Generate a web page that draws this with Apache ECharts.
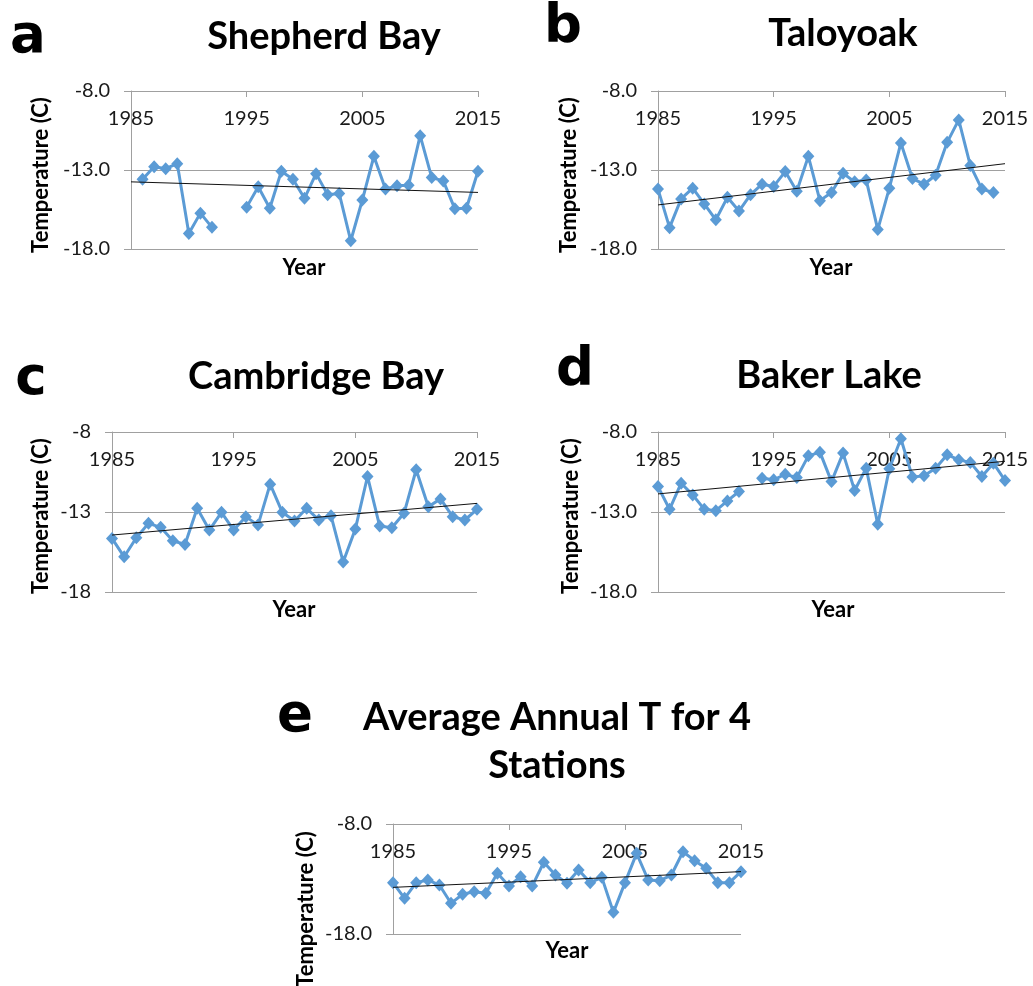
<!DOCTYPE html>
<html>
<head>
<meta charset="utf-8">
<script src="https://cdn.jsdelivr.net/npm/echarts@6/dist/echarts.min.js"></script>
<style>
  html, body { margin: 0; padding: 0; background: #fff; }
  #chart { width: 1033px; height: 986px; }
</style>
</head>
<body>
<div id="chart"></div>
<script>
// years on the x axis
const years = [1985, 1986, 1987, 1988, 1989, 1990, 1991, 1992, 1993, 1994,
  1995, 1996, 1997, 1998, 1999, 2000, 2001, 2002, 2003, 2004,
  2005, 2006, 2007, 2008, 2009, 2010, 2011, 2012, 2013, 2014, 2015]
const xTicks = [1985, 1995, 2005, 2015]

// annual mean temperature (C), null = no data
const shepherdBay = [null, -13.58, -12.79, -12.92, -12.6, -17.02, -15.73, -16.63, null, null,
  -15.35, -14.06, -15.42, -13.08, -13.58, -14.79, -13.23, -14.56, -14.48, -17.48,
  -14.9, -12.13, -14.21, -14.0, -13.96, -10.83, -13.48, -13.69, -15.46, -15.42, -13.08]
const taloyoak = [-14.21, -16.65, -14.83, -14.15, -15.15, -16.15, -14.73, -15.6, -14.56, -13.9,
  -14.04, -13.1, -14.35, -12.13, -14.94, -14.42, -13.21, -13.75, -13.63, -16.77,
  -14.15, -11.29, -13.54, -13.9, -13.33, -11.25, -9.83, -12.71, -14.21, -14.42, null]
const cambridgeBay = [-14.65, -15.8, -14.61, -13.71, -13.96, -14.8, -15.03, -12.77, -14.13, -13.02,
  -14.13, -13.29, -13.82, -11.26, -13.02, -13.56, -12.77, -13.5, -13.23, -16.12,
  -14.07, -10.78, -13.88, -13.98, -13.08, -10.36, -12.67, -12.18, -13.29, -13.5, -12.83]
const bakerLake = [-11.41, -12.83, -11.2, -11.93, -12.83, -12.92, -12.31, -11.72, null, -10.89,
  -10.99, -10.64, -10.85, -9.49, -9.26, -11.1, -9.32, -11.66, -10.26, -13.77,
  -10.3, -8.42, -10.82, -10.74, -10.26, -9.42, -9.74, -9.9, -10.78, -9.95, -11.03]
const average4 = [-13.33, -14.76, -13.33, -13.09, -13.55, -15.21, -14.39, -14.15, -14.3, -12.48,
  -13.64, -12.79, -13.64, -11.48, -12.64, -13.39, -12.18, -13.33, -12.85, -16.03,
  -13.33, -10.67, -13.09, -13.15, -12.64, -10.52, -11.33, -12.03, -13.33, -13.33, -12.33]

// linear trend lines, end points
const trendYears = [1985, 2015]
const shepherdTrend = [-13.75, -14.42]
const taloyoakTrend = [-15.21, -12.6]
const cambridgeTrend = [-14.44, -12.46]
const bakerTrend = [-11.87, -9.83]
const averageTrend = [-13.76, -12.33]

// y axis ticks
const yTicks = [-18, -13, -8]
const yTicksAvg = [-18, -8]

const BLUE = '#5B9BD5'
const GRID = '#a0a0a0'
const TXT = '#1a1a1a'

const panels = [
  { values: shepherdBay, trend: shepherdTrend, ticks: yTicks, dec: 1,
    grid: { left: 131, top: 91, width: 347, height: 158 } },
  { values: taloyoak, trend: taloyoakTrend, ticks: yTicks, dec: 1,
    grid: { left: 658, top: 91, width: 347, height: 158 } },
  { values: cambridgeBay, trend: cambridgeTrend, ticks: yTicks, dec: 0,
    grid: { left: 112, top: 432, width: 365, height: 160 } },
  { values: bakerLake, trend: bakerTrend, ticks: yTicks, dec: 1,
    grid: { left: 658, top: 432, width: 347, height: 160 } },
  { values: average4, trend: averageTrend, ticks: yTicksAvg, dec: 1,
    grid: { left: 393, top: 824, width: 348, height: 110 } }
]

const grids = []
const xAxes = []
const yAxes = []
const series = []

panels.forEach((p, i) => {
  grids.push(p.grid)
  xAxes.push({
    type: 'value',
    gridIndex: i,
    position: 'top',
    min: xTicks[0],
    max: xTicks[xTicks.length - 1],
    interval: xTicks[1] - xTicks[0],
    axisLine: { show: true, lineStyle: { color: GRID, width: 1 } },
    axisTick: { show: true, inside: true, length: 6, lineStyle: { color: GRID } },
    axisLabel: {
      inside: true, margin: 18, fontSize: 20, fontFamily: 'Lato', color: TXT,
      formatter: v => String(v)
    },
    splitLine: { show: false }
  })
  yAxes.push({
    type: 'value',
    gridIndex: i,
    min: p.ticks[0],
    max: p.ticks[p.ticks.length - 1],
    interval: p.ticks[1] - p.ticks[0],
    axisLine: { show: true, lineStyle: { color: GRID, width: 1 } },
    axisTick: { show: true, length: 7, lineStyle: { color: GRID } },
    axisLabel: {
      margin: 21, fontSize: 20, fontFamily: 'Lato', color: TXT,
      formatter: v => v.toFixed(p.dec)
    },
    splitLine: { show: true, lineStyle: { color: GRID, width: 1 } }
  })
  series.push({
    type: 'line',
    xAxisIndex: i,
    yAxisIndex: i,
    data: years.map((y, k) => [y, p.values[k]]),
    connectNulls: false,
    symbol: 'diamond',
    symbolSize: [12, 13],
    showAllSymbol: true,
    lineStyle: { width: 3, color: BLUE },
    itemStyle: { color: BLUE },
    z: 3
  })
  series.push({
    type: 'line',
    xAxisIndex: i,
    yAxisIndex: i,
    data: trendYears.map((y, k) => [y, p.trend[k]]),
    symbol: 'none',
    lineStyle: { width: 1, color: '#111' },
    z: 4
  })
})

// text pieces: panel letters, titles, axis names
function txt(x, y, text, font, rot) {
  return {
    type: 'text', x: x, y: y, rotation: rot || 0,
    style: { text: text, font: font, fill: '#000', align: 'center', verticalAlign: 'middle',
      textAlign: 'center', textVerticalAlign: 'middle' }
  }
}
const LETTER = 'bold 53px "DejaVu Sans"'
const TITLE = 'bold 38px Lato'
const NAME = 'bold 22px Lato'

const graphic = [
  txt(28, 38, 'a', LETTER), txt(563, 28, 'b', LETTER), txt(31, 380, 'c', LETTER),
  txt(575, 371, 'd', LETTER), txt(295, 717, 'e', LETTER),
  txt(324, 37, 'Shepherd Bay', TITLE),
  txt(843, 34, 'Taloyoak', TITLE),
  txt(316, 377, 'Cambridge Bay', TITLE),
  txt(829, 376, 'Baker Lake', TITLE),
  txt(557, 718, 'Average Annual T for 4', TITLE),
  txt(557, 766, 'Stations', TITLE),
  txt(304, 268, 'Year', NAME), txt(831, 268, 'Year', NAME),
  txt(294, 610, 'Year', NAME), txt(833, 610, 'Year', NAME),
  txt(567, 951, 'Year', NAME),
  txt(41, 175, 'Temperature (C)', NAME, Math.PI / 2),
  txt(569, 175, 'Temperature (C)', NAME, Math.PI / 2),
  txt(41, 516, 'Temperature (C)', NAME, Math.PI / 2),
  txt(571, 516, 'Temperature (C)', NAME, Math.PI / 2),
  txt(306, 909, 'Temperature (C)', NAME, Math.PI / 2)
]

const chart = echarts.init(document.getElementById('chart'), null, { renderer: 'canvas' })
chart.setOption({
  animation: false,
  backgroundColor: '#fff',
  grid: grids,
  xAxis: xAxes,
  yAxis: yAxes,
  series: series,
  graphic: graphic
})
</script>
</body>
</html>
